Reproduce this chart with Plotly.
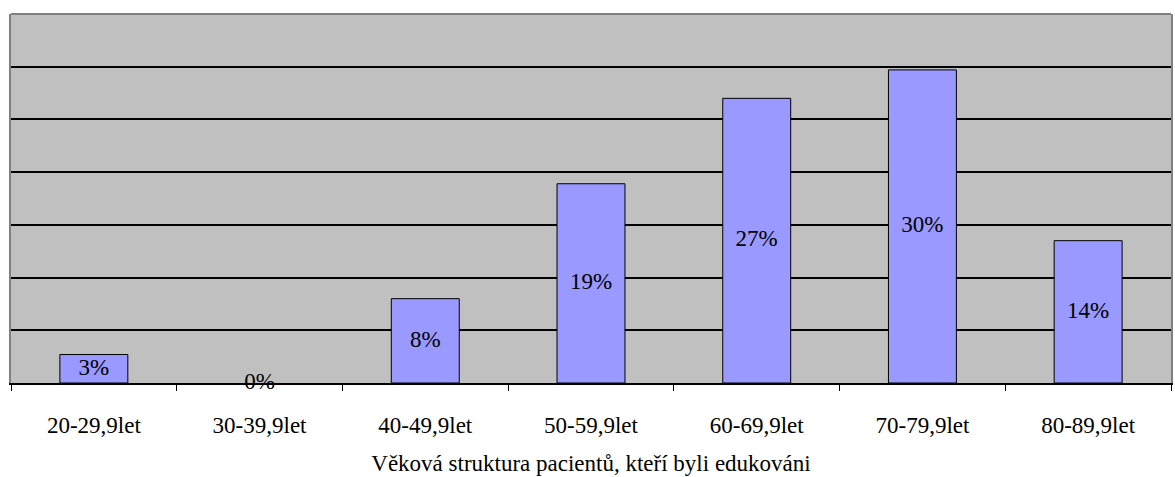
import plotly.graph_objects as go

categories = ["20-29,9let", "30-39,9let", "40-49,9let", "50-59,9let",
              "60-69,9let", "70-79,9let", "80-89,9let"]
values = [2.7, 0.0, 8.0, 18.9, 27.0, 29.7, 13.5]
labels = ["3%", "0%", "8%", "19%", "27%", "30%", "14%"]
x_title = "Věková struktura pacientů, kteří byli edukováni"

FONT = "Liberation Serif"

fig = go.Figure()
fig.add_trace(go.Bar(
    x=categories, y=values, width=0.41,
    marker=dict(color="#9999FF",
                line=dict(color="black", width=[0 if v == 0 else 1 for v in values])),
    hoverinfo="skip", showlegend=False,
))
fig.add_trace(go.Scatter(
    x=categories, y=[v / 2 for v in values], text=labels, mode="text",
    textfont=dict(family=FONT, size=23, color="black"),
    cliponaxis=False,
    showlegend=False, hoverinfo="skip",
))

fig.update_layout(
    width=1175, height=477,
    margin=dict(l=11, r=2, t=14, b=94),
    paper_bgcolor="white", plot_bgcolor="#C0C0C0",
    font=dict(family=FONT, size=23, color="black"),
    xaxis=dict(
        title=dict(text=x_title, font=dict(family=FONT, size=23), standoff=18),
        tickson="boundaries", ticks="outside", ticklen=6, tickcolor="black",
        ticklabelstandoff=20,
        showline=True, linecolor="black", linewidth=2,
        showgrid=False, tickfont=dict(family=FONT, size=23),
    ),
    yaxis=dict(
        range=[0, 35], dtick=5, showticklabels=False,
        showgrid=True, gridcolor="black", gridwidth=1.5,
        showline=True, linecolor="#808080", linewidth=2, mirror=True,
        zeroline=False, ticks="",
    ),
    shapes=[dict(type="line", xref="paper", yref="paper", x0=0, x1=1, y0=1, y1=1,
                 line=dict(color="#808080", width=2))],
)

fig.write_html("out.html")
